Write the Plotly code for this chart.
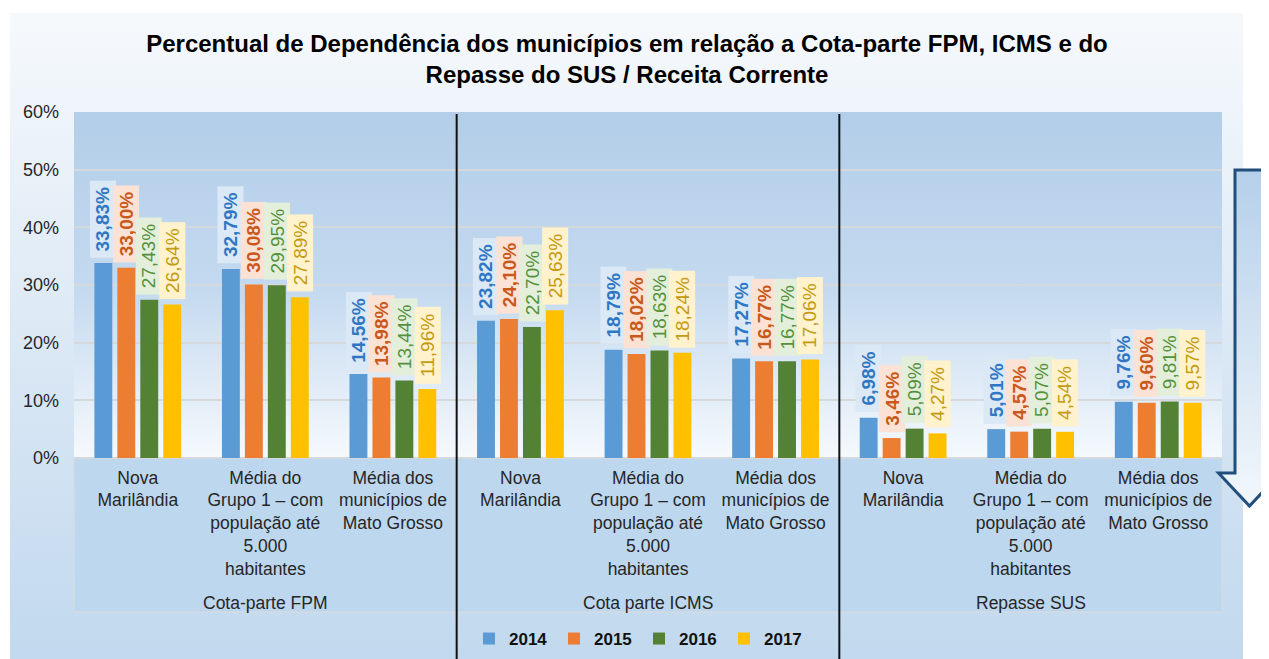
import base64
import plotly.graph_objects as go

# ---------------- data ----------------
categories = [
    "Nova<br>Marilândia",
    "Média do<br>Grupo 1 – com<br>população até<br>5.000<br>habitantes",
    "Média dos<br>municípios de<br>Mato Grosso",
] * 3
groups = ["Cota-parte FPM", "Cota parte ICMS", "Repasse SUS"]
years = ["2014", "2015", "2016", "2017"]

v2014 = [33.83, 32.79, 14.56, 23.82, 18.79, 17.27, 6.98, 5.01, 9.76]
v2015 = [33.00, 30.08, 13.98, 24.10, 18.02, 16.77, 3.46, 4.57, 9.60]
v2016 = [27.43, 29.95, 13.44, 22.70, 18.63, 16.77, 5.09, 5.07, 9.81]
v2017 = [26.64, 27.89, 11.96, 25.63, 18.24, 17.06, 4.27, 4.54, 9.57]
series = [v2014, v2015, v2016, v2017]

y_ticks = [0, 10, 20, 30, 40, 50, 60]
y_ticktext = ["0%", "10%", "20%", "30%", "40%", "50%", "60%"]

# ---------------- styles ----------------
bar_colors = ["#5b9bd5", "#ed7d31", "#548235", "#ffc000"]
lbl_text = ["#2f77c4", "#c9581a", "#55913a", "#c49a10"]
lbl_bg = ["#dbe8f5", "#fbe2d4", "#e3efda", "#fff2cc"]
lbl_bold = [True, True, False, False]
FONT = "Liberation Sans, Arial, sans-serif"

# page geometry (browser body has an 8px margin)
OFF = 8
PAGE_W, PAGE_H = 1269, 659
W, H = PAGE_W - OFF, PAGE_H - OFF
P_LEFT, P_RIGHT, P_TOP, P_BOTTOM = 74, 1222, 112, 458   # plot area in page px
ML, MT = P_LEFT - OFF, P_TOP - OFF
MR, MB = W - (P_RIGHT - OFF), H - (P_BOTTOM - OFF)
PW, PH = P_RIGHT - P_LEFT, P_BOTTOM - P_TOP
BARGAP, GROUPGAP = 0.28, 0.22
slot = (1 - BARGAP) / 4

def py(page_y):
    return (P_BOTTOM - page_y) / PH

def pxx(page_x):
    return (page_x - P_LEFT) / PW

def f(v):  # page px -> figure px
    return v - OFF

# ---------------- background (gradients) ----------------
panel = (10, 13, 1243)
box_bottom = 612
shaft_l, shaft_r, shaft_top = 1235, 1264, 170
head_y, head_half, tip_y = 473, 31, 506
cx = (shaft_l + shaft_r) / 2
svg = f'''<svg xmlns="http://www.w3.org/2000/svg" width="{W}" height="{H}" viewBox="0 0 {W} {H}" preserveAspectRatio="none">
<defs>
<linearGradient id="pg" x1="0" y1="0" x2="0" y2="1"><stop offset="0" stop-color="#f6f9fc"/><stop offset="1" stop-color="#c1d8ee"/></linearGradient>
<linearGradient id="ag" x1="0" y1="0" x2="0" y2="1"><stop offset="0" stop-color="#b3cee9"/><stop offset="0.5" stop-color="#c3d9ef"/><stop offset="1" stop-color="#f5f9fd"/></linearGradient>
<linearGradient id="ar" x1="0" y1="0" x2="0" y2="1"><stop offset="0" stop-color="#b5d0ea"/><stop offset="1" stop-color="#f2f7fc"/></linearGradient>
</defs>
<rect x="{f(panel[0])}" y="{f(panel[1])}" width="{panel[2]-panel[0]}" height="{H}" fill="url(#pg)"/>
<rect x="{ML}" y="{MT}" width="{PW}" height="{PH}" fill="url(#ag)"/>
<rect x="{ML}" y="{MT+PH}" width="{PW}" height="{box_bottom-P_BOTTOM}" fill="#bdd7ee" stroke="#d3dbe3" stroke-width="1.5"/>
<path d="M{f(shaft_l)},{f(shaft_top)} H{f(shaft_r)} V{f(head_y)} H{f(cx+head_half)} L{f(cx)},{f(tip_y)} L{f(cx-head_half)},{f(head_y)} H{f(shaft_l)} Z" fill="url(#ar)" stroke="#214f7c" stroke-width="3" stroke-linejoin="miter"/>
</svg>'''
svg_uri = "data:image/svg+xml;base64," + base64.b64encode(svg.encode()).decode()

fig = go.Figure()

xs = list(range(len(categories)))
for k, (yr, vals) in enumerate(zip(years, series)):
    fig.add_trace(go.Bar(
        x=xs, y=vals, name=yr,
        marker=dict(color=bar_colors[k], line=dict(width=0)),
        hoverinfo="y+name",
    ))

# data labels (rotated, with coloured boxes)
LBL_FS = 19
def text_w(s, fs):
    w = 0
    for ch in s:
        if ch.isdigit():
            w += 0.556
        elif ch == ",":
            w += 0.278
        elif ch == "%":
            w += 0.889
        else:
            w += 0.5
    return w * fs

annotations = []
for k, vals in enumerate(series):
    off = (k - 1.5) * slot
    for i, v in enumerate(vals):
        s = f"{v:.2f}".replace(".", ",") + "%"
        txt = f"<b>{s}</b>" if lbl_bold[k] else s
        annotations.append(dict(
            x=i + off, y=v, xref="x", yref="y",
            text=txt, textangle=-90, showarrow=False,
            xanchor="center", yanchor="bottom", yshift=5,
            font=dict(family=FONT, size=LBL_FS, color=lbl_text[k]),
            bgcolor=lbl_bg[k], borderpad=0,
            width=round(text_w(s, LBL_FS) + 12), height=25,
        ))

# group labels
for g, name in enumerate(groups):
    annotations.append(dict(
        x=g * 3 + 1, y=py(603), xref="x", yref="paper",
        text=name, showarrow=False, yanchor="middle",
        font=dict(family=FONT, size=17.5, color="#262626"),
    ))

# separators between groups
shapes = []
for g in range(1, len(groups)):
    shapes.append(dict(
        type="line", xref="x", yref="paper",
        x0=g * 3 - 0.5, x1=g * 3 - 0.5, y0=py(PAGE_H), y1=py(114),
        line=dict(color="#111111", width=2),
    ))

fig.update_layout(
    width=W, height=H, autosize=False,
    margin=dict(l=ML, r=MR, t=MT, b=MB, pad=0, autoexpand=False),
    paper_bgcolor="white",
    plot_bgcolor="rgba(0,0,0,0)",
    barmode="group", bargap=BARGAP, bargroupgap=GROUPGAP,
    title=dict(
        text="Percentual de Dependência dos municípios em relação a Cota-parte FPM, ICMS e do<br>Repasse do SUS / Receita Corrente",
        x=f(627) / W, xanchor="center", xref="container",
        y=1 - 44 / H, yanchor="top", yref="container",
        font=dict(family=FONT, size=24, color="#000000", weight="bold"),
        automargin=False,
    ),
    font=dict(family=FONT, color="#262626"),
    xaxis=dict(
        tickmode="array", tickvals=xs, ticktext=categories,
        range=[-0.5, len(categories) - 0.5],
        showgrid=False, zeroline=False, showline=False, ticks="",
        tickangle=0, automargin=False,
        tickfont=dict(family=FONT, size=17.5, color="#262626"),
        ticklabelstandoff=7,
    ),
    yaxis=dict(
        range=[0, 60], tickmode="array", tickvals=y_ticks, ticktext=y_ticktext,
        showgrid=True, gridcolor="#d6d9dc", gridwidth=2,
        zeroline=True, zerolinecolor="#d6d9dc", zerolinewidth=2,
        showline=False, ticks="", automargin=False,
        tickfont=dict(family=FONT, size=18, color="#262626"),
        ticklabelstandoff=14,
    ),
    legend=dict(
        orientation="h", x=pxx(639), xanchor="center",
        y=py(639), yanchor="middle",
        font=dict(family=FONT, size=17, color="#111111", weight="bold"),
        bgcolor="rgba(0,0,0,0)", itemwidth=30, traceorder="normal",
        entrywidth=40, entrywidthmode="pixels",
    ),
    annotations=annotations,
    shapes=shapes,
    images=[dict(
        source=svg_uri, xref="paper", yref="paper",
        x=-ML / PW, y=1 + MT / PH, sizex=W / PW, sizey=H / PH,
        xanchor="left", yanchor="top", sizing="stretch", layer="below",
    )],
    showlegend=True,
)

fig.write_html("out.html")
